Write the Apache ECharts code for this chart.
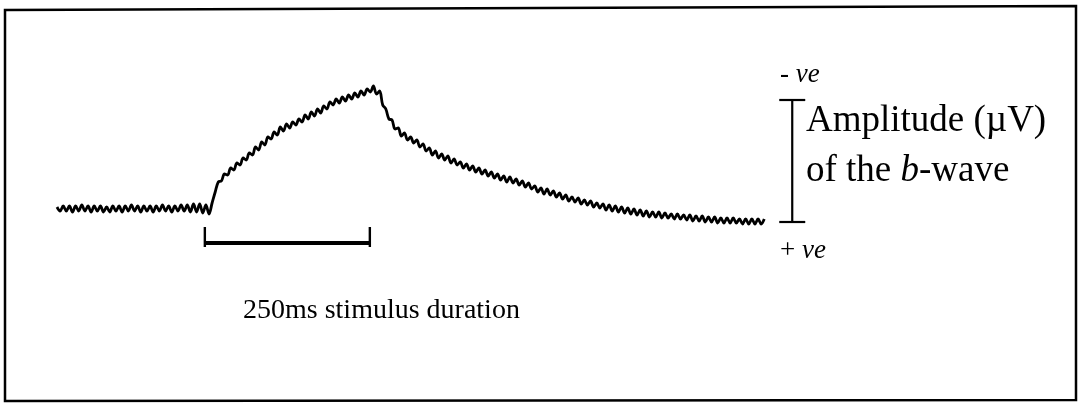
<!DOCTYPE html>
<html>
<head>
<meta charset="utf-8">
<title>b-wave recording</title>
<script src="https://cdn.jsdelivr.net/npm/echarts@6/dist/echarts.min.js"></script>
<style>
  html, body { margin: 0; padding: 0; background: #fff; }
  #chart { width: 1079px; height: 408px; }
</style>
</head>
<body>
<div id="chart"></div>
<script>
// Recorded trace: amplitude in µV (negative = upward deflection), sampled every SAMPLE_MS
const SAMPLE_MS = 4.7;
const START_MS = -224;          // first sample, relative to stimulus onset
const amplitude = [
  -2, 2, -3, 2, -3, 3, -3, 2,
  -4, 2, -3, 3, -3, 2, -3, 3,
  -2, 3, -3, 2, -3, 3, -3, 2,
  -4, 2, -3, 3, -3, 2, -3, 3,
  -3, 2, -4, 2, -3, 3, -3, 2,
  -4, 2, -4, 3, -5, 3, -5, 4,
  -4, 5, -6, -17, -27, -28, -35, -34,
  -41, -39, -46, -44, -51, -49, -56, -54,
  -62, -59, -67, -64, -72, -70, -77, -74,
  -82, -78, -85, -81, -87, -84, -90, -87,
  -94, -90, -97, -93, -100, -96, -103, -100,
  -107, -104, -110, -106, -112, -108, -114, -110,
  -116, -112, -118, -114, -120, -117, -123, -115,
  -118, -104, -100, -90, -89, -80, -81, -73,
  -76, -69, -72, -66, -69, -62, -65, -58,
  -61, -54, -58, -51, -55, -49, -53, -46,
  -50, -44, -47, -41, -45, -39, -43, -37,
  -41, -35, -39, -33, -37, -31, -35, -29,
  -33, -27, -32, -26, -30, -24, -28, -22,
  -26, -20, -23, -17, -21, -15, -20, -14,
  -18, -12, -16, -10, -14, -8, -12, -7,
  -11, -5, -9, -4, -8, -2, -6, -1,
  -5, 1, -4, 2, -3, 3, -2, 4,
  -1, 5, 0, 6, 1, 7, 2, 8,
  3, 8, 3, 9, 4, 9, 5, 10,
  5, 10, 6, 11, 6, 12, 7, 12,
  7, 13, 8, 13, 8, 14, 9, 14,
  9, 14, 9, 14, 10, 15, 10, 15,
  10, 15, 10, 15, 10
];

// Stimulus window (ms) and where its bar sits on the amplitude scale
const stimulus = [0, 250];
const stimulusLevel = 34;
const stimulusTicks = [18, 38];

// Amplitude calibration bar: time position and its µV extent (top = -ve, bottom = +ve)
const ampBarTime = [890];
const ampBarRange = [-109, 13];

// Texts
const stimulusText = '250ms stimulus duration';
const ampText1 = 'Amplitude (µV)';

const trace = amplitude.map((v, i) => [START_MS + i * SAMPLE_MS, v]);

const chart = echarts.init(document.getElementById('chart'), null, { renderer: 'canvas' });
const SERIF = '"Liberation Serif", "Times New Roman", serif';

chart.setOption({
  animation: false,
  backgroundColor: '#ffffff',
  grid: { left: 57, width: 990, top: 59, height: 200 },
  xAxis: { type: 'value', min: -224, max: 1276, show: false },
  yAxis: { type: 'value', min: -150, max: 50, inverse: true, show: false },
  series: [
    {
      name: 'trace',
      type: 'line',
      data: trace,
      showSymbol: false,
      smooth: 0.35,
      lineStyle: { color: '#000', width: 2.8 }
    },
    {
      name: 'stimulus',
      type: 'custom',
      data: [[stimulus[0], stimulus[1]]],
      renderItem: function (params, api) {
        const a = api.coord([api.value(0), stimulusLevel]);
        const b = api.coord([api.value(1), stimulusLevel]);
        const aTop = api.coord([api.value(0), stimulusTicks[0]]);
        const aBot = api.coord([api.value(0), stimulusTicks[1]]);
        const bTop = api.coord([api.value(1), stimulusTicks[0]]);
        const bBot = api.coord([api.value(1), stimulusTicks[1]]);
        return {
          type: 'group',
          children: [
            { type: 'line', shape: { x1: a[0], y1: a[1], x2: b[0], y2: b[1] }, style: { stroke: '#000', lineWidth: 4 } },
            { type: 'line', shape: { x1: aTop[0], y1: aTop[1], x2: aBot[0], y2: aBot[1] }, style: { stroke: '#000', lineWidth: 2.4 } },
            { type: 'line', shape: { x1: bTop[0], y1: bTop[1], x2: bBot[0], y2: bBot[1] }, style: { stroke: '#000', lineWidth: 2.4 } }
          ]
        };
      }
    },
    {
      name: 'amplitude bar',
      type: 'custom',
      data: [[ampBarTime[0], ampBarRange[0], ampBarRange[1]]],
      renderItem: function (params, api) {
        const top = api.coord([api.value(0), api.value(1)]);
        const bot = api.coord([api.value(0), api.value(2)]);
        const cap = 13;
        return {
          type: 'group',
          children: [
            { type: 'line', shape: { x1: top[0], y1: top[1], x2: bot[0], y2: bot[1] }, style: { stroke: '#000', lineWidth: 2.2 } },
            { type: 'line', shape: { x1: top[0] - cap, y1: top[1], x2: top[0] + cap, y2: top[1] }, style: { stroke: '#000', lineWidth: 2.2 } },
            { type: 'line', shape: { x1: bot[0] - cap, y1: bot[1], x2: bot[0] + cap, y2: bot[1] }, style: { stroke: '#000', lineWidth: 2.2 } }
          ]
        };
      }
    }
  ],
  graphic: [
    {
      type: 'polygon',
      shape: { points: [[5, 10], [1076, 6], [1076, 400], [5, 401]] },
      style: { fill: 'none', stroke: '#000', lineWidth: 2.5 },
      silent: true
    },
    {
      type: 'text', left: 243, top: 297,
      style: { text: stimulusText, font: '28px ' + SERIF, fill: '#000' }
    },
    {
      type: 'text', left: 806, top: 103,
      style: { text: ampText1, font: '37px ' + SERIF, fill: '#000' }
    },
    {
      type: 'text', left: 806, top: 153,
      style: {
        text: 'of the {i|b}-wave',
        font: '37px ' + SERIF, fill: '#000',
        rich: { i: { fontStyle: 'italic', fontSize: 37, fontFamily: SERIF, fill: '#000' } }
      }
    },
    {
      type: 'text', left: 780, top: 61,
      style: {
        text: '- {i|ve}',
        font: '27px ' + SERIF, fill: '#000',
        rich: { i: { fontStyle: 'italic', fontSize: 27, fontFamily: SERIF, fill: '#000' } }
      }
    },
    {
      type: 'text', left: 780, top: 237,
      style: {
        text: '+ {i|ve}',
        font: '27px ' + SERIF, fill: '#000',
        rich: { i: { fontStyle: 'italic', fontSize: 27, fontFamily: SERIF, fill: '#000' } }
      }
    }
  ]
});
</script>
</body>
</html>
